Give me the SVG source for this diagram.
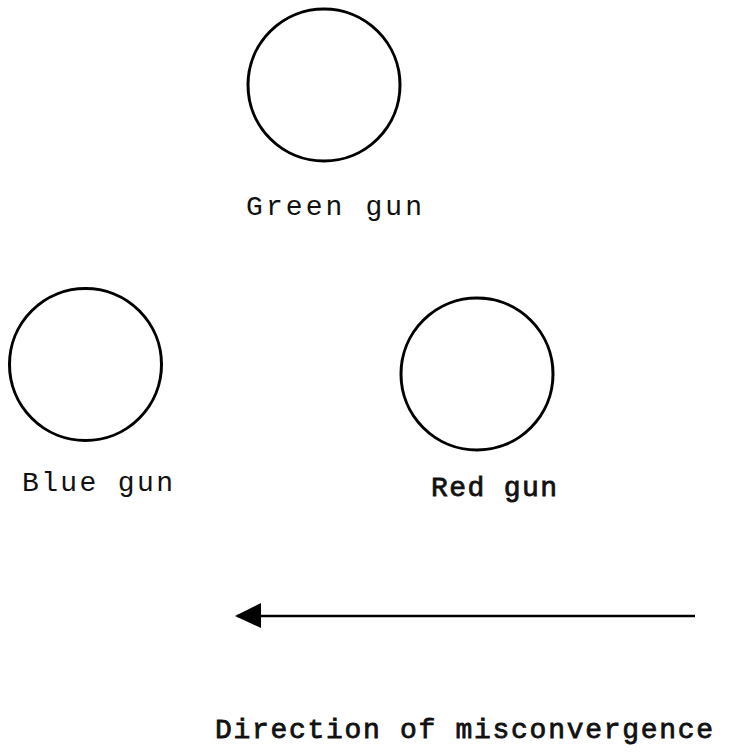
<svg xmlns="http://www.w3.org/2000/svg" width="753" height="754" viewBox="0 0 753 754">
<style>
.gun{fill:none;stroke:#000;stroke-width:3}
.lbl{font-family:"Liberation Mono","Courier New",monospace;font-size:28px;fill:#111}
.bold{stroke:#111;stroke-width:0.8}
.conn{stroke:#000;stroke-width:2.5;fill:none}
</style>
<defs>
<marker id="ah" markerUnits="userSpaceOnUse" markerWidth="28" markerHeight="30" refX="24" refY="14" orient="auto" viewBox="0 0 28 30">
<path d="M26,14 L0,2 L0,27 Z" fill="#000"/>
</marker>
</defs>
<rect width="753" height="754" fill="#fff"/>
<g id="green-gun">
<circle class="gun" cx="324" cy="85" r="76"/>
<text class="lbl" x="246" y="215" textLength="176" lengthAdjust="spacing">Green gun</text>
</g>
<g id="blue-gun">
<circle class="gun" cx="85.5" cy="364.5" r="76"/>
<text class="lbl" x="22" y="491" textLength="151" lengthAdjust="spacing">Blue gun</text>
</g>
<g id="red-gun">
<circle class="gun" cx="477" cy="374" r="76"/>
<text class="lbl bold" x="431" y="496" textLength="126" lengthAdjust="spacing">Red gun</text>
</g>
<g id="connectors">
<line class="conn" x1="695" y1="616" x2="237" y2="616" marker-end="url(#ah)"/>
</g>
<g id="direction-label">
<text class="lbl bold" x="215" y="738" textLength="498" lengthAdjust="spacing">Direction of misconvergence</text>
</g>
</svg>
